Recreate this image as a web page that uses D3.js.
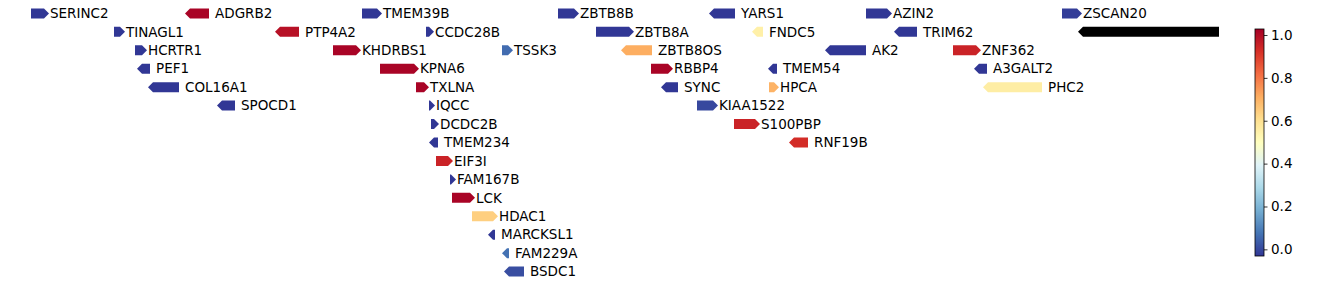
<!DOCTYPE html>
<html>
<head>
<meta charset="utf-8">
<script src="https://cdn.jsdelivr.net/npm/d3@7"></script>
<style>
  body{margin:0;background:#fff;}
  text{font-family:"DejaVu Sans",sans-serif;}
</style>
</head>
<body>
<div id="chart"></div>
<script>
// genes on chr1, positions in kb
var geneNames = ["SERINC2","ADGRB2","TMEM39B","ZBTB8B","YARS1","AZIN2","ZSCAN20",
                 "TINAGL1","PTP4A2","CCDC28B","ZBTB8A","FNDC5","TRIM62","CSMD2",
                 "HCRTR1","KHDRBS1","TSSK3","ZBTB8OS","AK2","ZNF362",
                 "PEF1","KPNA6","RBBP4","TMEM54","A3GALT2",
                 "COL16A1","TXLNA","SYNC","HPCA","PHC2",
                 "SPOCD1","IQCC","KIAA1522",
                 "DCDC2B","S100PBP",
                 "TMEM234","RNF19B",
                 "EIF3I","FAM167B","LCK","HDAC1","MARCKSL1","FAM229A","BSDC1"];
var geneStart = [31362,31670,32024,32416,32718,33032,33424,
                 31528,31850,32152,32492,32804,33088,33456,
                 31570,31966,32304,32542,32950,33206,
                 31574,32060,32602,32836,33248,
                 31596,32132,32622,32838,33266,
                 31734,32158,32694,
                 32162,32768,
                 32158,32878,
                 32172,32200,32204,32244,32276,32304,32308];
var geneEnd   = [31398,31718,32064,32458,32770,33084,33464,
                 31550,31898,32168,32568,32826,33134,33900,
                 31594,32022,32326,32604,33032,33262,
                 31600,32138,32646,32854,33274,
                 31658,32158,32656,32858,33384,
                 31770,32170,32736,
                 32178,32820,
                 32176,32916,
                 32206,32212,32250,32296,32290,32318,32348];
var geneStrand = ["+","-","+","+","-","+","+",
                  "+","-","+","+","-","-","-",
                  "+","+","+","-","-","+",
                  "-","+","+","-","-",
                  "-","+","-","+","-",
                  "-","+","+",
                  "+","+",
                  "-","-",
                  "+","+","+","+","-","-","-"];
var geneRow = [0,0,0,0,0,0,0,
               1,1,1,1,1,1,1,
               2,2,2,2,2,2,
               3,3,3,3,3,
               4,4,4,4,4,
               5,5,5,
               6,6,
               7,7,
               8,9,10,11,12,13,14];
// score per gene (null = no value)
var geneScore = [-0.03,1.02,-0.03,-0.03,-0.03,-0.03,-0.02,
                 -0.03,0.99,-0.03,-0.03,0.55,-0.03,null,
                 -0.03,1.02,0.06,0.71,-0.03,0.95,
                 -0.03,1.02,1.02,-0.03,-0.03,
                 -0.03,1.02,-0.03,0.70,0.56,
                 -0.03,-0.03,0.00,
                 -0.03,0.95,
                 -0.03,0.93,
                 0.95,-0.03,1.02,0.64,-0.03,0.07,0.01];

var cbTicks = [0.0,0.2,0.4,0.6,0.8,1.0];
var vmin = -0.031, vmax = 1.028;

var width = 1338, height = 285;
var plot = {left:0, right:1219};

// matplotlib RdYlBu_r
var rdylbu = ["#313695","#4575b4","#74add1","#abd9e9","#e0f3f8","#ffffbf",
              "#fee090","#fdae61","#f46d43","#d73027","#a50026"];
var cmap = d3.scaleLinear().domain(d3.range(11).map(i=>i/10)).range(rdylbu)
             .interpolate(d3.interpolateRgb).clamp(true);
var color = v => v==null ? "#000" : cmap((v-vmin)/(vmax-vmin));

var genes = geneNames.map((n,i)=>({name:n,start:geneStart[i],end:geneEnd[i],
             strand:geneStrand[i],row:geneRow[i],score:geneScore[i]}));

var svg = d3.select("#chart").append("svg")
            .attr("width",width).attr("height",height);

var x = d3.scaleLinear().domain([31300,33738]).range([plot.left,plot.right]);
var y = d3.scaleLinear().domain([0,14]).range([13.4,271.6]);

var defs = svg.append("defs");
defs.append("clipPath").attr("id","clip")
    .append("rect").attr("x",plot.left).attr("y",0)
    .attr("width",plot.right-plot.left).attr("height",height);

var boxH = 10, headL = 5;
function arrow(d){
  var x0 = x(d.start), x1 = x(d.end), yc = y(d.row), h = boxH/2;
  var hl = Math.min(headL, x1-x0);
  if(d.strand=="+"){
    return "M"+x0+","+(yc-h)+"L"+(x1-hl)+","+(yc-h)+"L"+x1+","+yc+
           "L"+(x1-hl)+","+(yc+h)+"L"+x0+","+(yc+h)+"Z";
  }
  return "M"+x1+","+(yc-h)+"L"+(x0+hl)+","+(yc-h)+"L"+x0+","+yc+
         "L"+(x0+hl)+","+(yc+h)+"L"+x1+","+(yc+h)+"Z";
}

var g = svg.append("g").attr("clip-path","url(#clip)");

g.selectAll("path.gene").data(genes).enter()
  .append("path").attr("class","gene")
  .attr("d",arrow)
  .attr("fill",d=>color(d.score));

// labels only for genes ending inside the view
g.selectAll("text.label").data(genes.filter(d=>x(d.end)<plot.right)).enter()
  .append("text").attr("class","label")
  .attr("x",d=>x(d.end)+(d.strand=="+"?1:6))
  .attr("y",d=>y(d.row))
  .attr("dy","0.35em")
  .attr("font-size","13.5px")
  .text(d=>d.name);

// colorbar
var cb = {x:1255, w:9, top:29, bottom:256};
var cy = d3.scaleLinear().domain([vmin,vmax]).range([cb.bottom,cb.top]);

var grad = defs.append("linearGradient").attr("id","cbgrad")
   .attr("x1",0).attr("y1",1).attr("x2",0).attr("y2",0);
grad.selectAll("stop").data(d3.range(0,1.0001,0.02)).enter()
   .append("stop").attr("offset",d=>d).attr("stop-color",d=>cmap(d));

svg.append("rect").attr("x",cb.x).attr("y",cb.top)
   .attr("width",cb.w).attr("height",cb.bottom-cb.top)
   .attr("fill","url(#cbgrad)")
   .attr("stroke","#000").attr("stroke-width",0.8);

var cbAxis = d3.axisRight(cy).tickValues(cbTicks).tickFormat(d3.format(".1f"))
               .tickSize(3.5).tickPadding(3.5);
var ax = svg.append("g").attr("transform","translate("+(cb.x+cb.w)+",0)").call(cbAxis);
ax.select(".domain").remove();
ax.selectAll("text").attr("font-size","13.5px").attr("fill","#000")
  .style("font-family","DejaVu Sans");
ax.selectAll("line").attr("stroke","#000").attr("stroke-width",0.8);
</script>
</body>
</html>
